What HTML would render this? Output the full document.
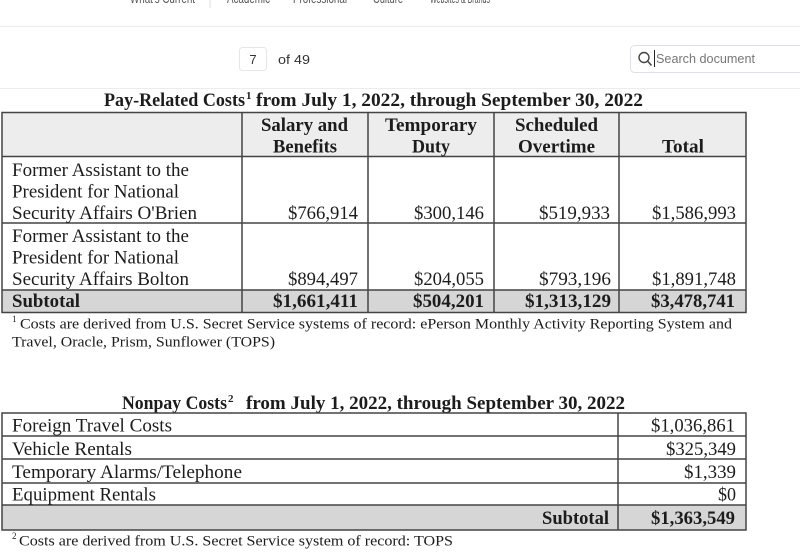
<!DOCTYPE html>
<html><head><meta charset="utf-8"><style>
html,body{margin:0;padding:0;background:#fff;width:800px;height:557px;overflow:hidden}
svg{display:block}
.s{font-family:"Liberation Serif",serif;fill:#1c1c1c}
.b{font-weight:bold}
.ui{font-family:"Liberation Sans",sans-serif}
</style></head><body>
<svg width="800" height="557" viewBox="0 0 800 557" xmlns="http://www.w3.org/2000/svg">
<rect width="800" height="557" fill="#fff"/>
<!-- top nav (cut off) -->
<g class="ui" font-size="14" fill="#555">
<text x="130" y="3" textLength="65" lengthAdjust="spacingAndGlyphs">What's Current</text>
<text x="227" y="3" textLength="43" lengthAdjust="spacingAndGlyphs">Academic</text>
<text x="293" y="3" textLength="54" lengthAdjust="spacingAndGlyphs">Professional</text>
<text x="373" y="3" textLength="30" lengthAdjust="spacingAndGlyphs">Culture</text>
<text x="430" y="3" textLength="60" lengthAdjust="spacingAndGlyphs">Websites &amp; Brands</text>
</g>
<line x1="210" y1="0" x2="210" y2="8" stroke="#ddd" stroke-width="1"/>
<line x1="0" y1="26.5" x2="800" y2="26.5" stroke="#ececec" stroke-width="1"/>
<!-- page box -->
<rect x="239.5" y="47.5" width="27" height="23" rx="3" fill="#fff" stroke="#e6e6e6"/>
<text class="ui" x="253" y="64" font-size="13" fill="#333" text-anchor="middle">7</text>
<text class="ui" x="278" y="64" font-size="13" fill="#333" textLength="32" lengthAdjust="spacingAndGlyphs">of 49</text>
<!-- search -->
<rect x="630.5" y="45.5" width="190" height="27" rx="4" fill="#fff" stroke="#dde1e6"/>
<circle cx="644" cy="57.5" r="5" fill="none" stroke="#444" stroke-width="1.4"/>
<line x1="647.5" y1="61" x2="651.5" y2="65.5" stroke="#444" stroke-width="1.5"/>
<line x1="654.5" y1="50" x2="654.5" y2="67" stroke="#222" stroke-width="1"/>
<text class="ui" x="656" y="63" font-size="13" fill="#777" textLength="99" lengthAdjust="spacingAndGlyphs">Search document</text>
<line x1="0" y1="88.5" x2="800" y2="88.5" stroke="#ececec" stroke-width="1"/>

<!-- Title 1 -->
<g class="s b" font-size="19">
<text x="104" y="106" textLength="141" lengthAdjust="spacingAndGlyphs">Pay-Related Costs</text>
<text x="246" y="99" font-size="11">1</text>
<text x="256" y="106" textLength="387" lengthAdjust="spacingAndGlyphs">from July 1, 2022, through September 30, 2022</text>
</g>

<!-- Table 1 fills -->
<rect x="2" y="112.5" width="744" height="44" fill="#ededed"/>
<rect x="2" y="290" width="744" height="22.5" fill="#d6d6d6"/>
<g stroke="#444" stroke-width="1.5" fill="none">
<rect x="2" y="112.5" width="744" height="200"/>
<line x1="2" y1="156.5" x2="746" y2="156.5"/>
<line x1="2" y1="223" x2="746" y2="223"/>
<line x1="2" y1="290" x2="746" y2="290"/>
<line x1="242" y1="112.5" x2="242" y2="312.5"/>
<line x1="368" y1="112.5" x2="368" y2="312.5"/>
<line x1="494" y1="112.5" x2="494" y2="312.5"/>
<line x1="619" y1="112.5" x2="619" y2="312.5"/>
</g>
<!-- header -->
<g class="s b" font-size="19">
<text x="261" y="131" textLength="87" lengthAdjust="spacingAndGlyphs">Salary and</text>
<text x="273" y="152.5" textLength="64" lengthAdjust="spacingAndGlyphs">Benefits</text>
<text x="385" y="131" textLength="92" lengthAdjust="spacingAndGlyphs">Temporary</text>
<text x="412" y="152.5" textLength="38" lengthAdjust="spacingAndGlyphs">Duty</text>
<text x="515" y="131" textLength="83" lengthAdjust="spacingAndGlyphs">Scheduled</text>
<text x="518" y="152.5" textLength="77" lengthAdjust="spacingAndGlyphs">Overtime</text>
<text x="662" y="152.5" textLength="42" lengthAdjust="spacingAndGlyphs">Total</text>
</g>
<!-- body rows -->
<g class="s" font-size="19">
<text x="12" y="176" textLength="177" lengthAdjust="spacingAndGlyphs">Former Assistant to the</text>
<text x="12" y="197.5" textLength="167" lengthAdjust="spacingAndGlyphs">President for National</text>
<text x="12" y="219" textLength="185" lengthAdjust="spacingAndGlyphs">Security Affairs O'Brien</text>
<text x="288" y="219" textLength="70" lengthAdjust="spacingAndGlyphs">$766,914</text>
<text x="414" y="219" textLength="70" lengthAdjust="spacingAndGlyphs">$300,146</text>
<text x="539" y="219" textLength="71" lengthAdjust="spacingAndGlyphs">$519,933</text>
<text x="652" y="219" textLength="84" lengthAdjust="spacingAndGlyphs">$1,586,993</text>

<text x="12" y="242" textLength="177" lengthAdjust="spacingAndGlyphs">Former Assistant to the</text>
<text x="12" y="263.5" textLength="167" lengthAdjust="spacingAndGlyphs">President for National</text>
<text x="12" y="285" textLength="177" lengthAdjust="spacingAndGlyphs">Security Affairs Bolton</text>
<text x="288" y="285" textLength="70" lengthAdjust="spacingAndGlyphs">$894,497</text>
<text x="414" y="285" textLength="70" lengthAdjust="spacingAndGlyphs">$204,055</text>
<text x="539" y="285" textLength="72" lengthAdjust="spacingAndGlyphs">$793,196</text>
<text x="652" y="285" textLength="84" lengthAdjust="spacingAndGlyphs">$1,891,748</text>
</g>
<g class="s b" font-size="19">
<text x="12" y="307" textLength="68" lengthAdjust="spacingAndGlyphs">Subtotal</text>
<text x="273" y="307" textLength="85" lengthAdjust="spacingAndGlyphs">$1,661,411</text>
<text x="413" y="307" textLength="71" lengthAdjust="spacingAndGlyphs">$504,201</text>
<text x="525" y="307" textLength="86" lengthAdjust="spacingAndGlyphs">$1,313,129</text>
<text x="651" y="307" textLength="84" lengthAdjust="spacingAndGlyphs">$3,478,741</text>
</g>
<!-- footnote 1 -->
<g class="s" font-size="15">
<text x="12" y="322" font-size="9">1</text>
<text x="20" y="328.5" textLength="712" lengthAdjust="spacingAndGlyphs">Costs are derived from U.S. Secret Service systems of record:  ePerson Monthly Activity Reporting System and</text>
<text x="12" y="346.5" textLength="263" lengthAdjust="spacingAndGlyphs">Travel, Oracle, Prism, Sunflower (TOPS)</text>
</g>

<!-- Title 2 -->
<g class="s b" font-size="19">
<text x="122" y="409" textLength="105" lengthAdjust="spacingAndGlyphs">Nonpay Costs</text>
<text x="228" y="402" font-size="11">2</text>
<text x="246" y="409" textLength="379" lengthAdjust="spacingAndGlyphs">from July 1, 2022, through September 30, 2022</text>
</g>
<!-- Table 2 -->
<rect x="2" y="505" width="744" height="25" fill="#d6d6d6"/>
<g stroke="#444" stroke-width="1.5" fill="none">
<rect x="2" y="413" width="744" height="117"/>
<line x1="2" y1="436" x2="746" y2="436"/>
<line x1="2" y1="459" x2="746" y2="459"/>
<line x1="2" y1="483" x2="746" y2="483"/>
<line x1="2" y1="505" x2="746" y2="505"/>
<line x1="618" y1="413" x2="618" y2="530"/>
</g>
<g class="s" font-size="19">
<text x="12" y="431.5" textLength="160" lengthAdjust="spacingAndGlyphs">Foreign Travel Costs</text>
<text x="12" y="455" textLength="120" lengthAdjust="spacingAndGlyphs">Vehicle Rentals</text>
<text x="12" y="478" textLength="230" lengthAdjust="spacingAndGlyphs">Temporary Alarms/Telephone</text>
<text x="12" y="500.5" textLength="144" lengthAdjust="spacingAndGlyphs">Equipment Rentals</text>
<text x="651" y="431.5" textLength="84" lengthAdjust="spacingAndGlyphs">$1,036,861</text>
<text x="666" y="455" textLength="70" lengthAdjust="spacingAndGlyphs">$325,349</text>
<text x="684" y="478" textLength="52" lengthAdjust="spacingAndGlyphs">$1,339</text>
<text x="718" y="500.5" textLength="18" lengthAdjust="spacingAndGlyphs">$0</text>
</g>
<g class="s b" font-size="19">
<text x="542" y="524" textLength="67" lengthAdjust="spacingAndGlyphs">Subtotal</text>
<text x="651" y="524" textLength="84" lengthAdjust="spacingAndGlyphs">$1,363,549</text>
</g>
<!-- footnote 2 -->
<g class="s" font-size="15">
<text x="12" y="539" font-size="9">2</text>
<text x="19" y="545.5" textLength="434" lengthAdjust="spacingAndGlyphs">Costs are derived from U.S. Secret Service system of record:  TOPS</text>
</g>
</svg>
</body></html>
